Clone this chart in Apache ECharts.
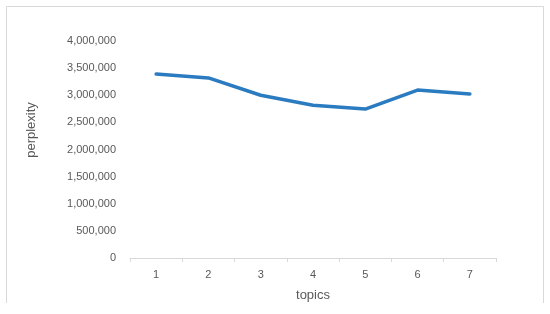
<!DOCTYPE html>
<html>
<head>
<meta charset="utf-8">
<script src="https://cdn.jsdelivr.net/npm/echarts@6/dist/echarts.min.js"></script>
<style>
  html, body { margin: 0; padding: 0; background: #fff; }
  #chart { width: 550px; height: 314px; }
</style>
</head>
<body>
<div id="chart"></div>
<script>
  // --- data ---
  var topics = ['1', '2', '3', '4', '5', '6', '7'];
  var perplexity = [3390000, 3320000, 3000000, 2815000, 2745000, 3095000, 3025000];

  var TEXT_COLOR = '#595959';
  var AXIS_COLOR = '#d9d9d9';
  var LINE_COLOR = '#2a7bc0';
  var FONT = '"Liberation Sans", Arial, sans-serif';

  function fmtThousands(v) {
    return String(v).replace(/\B(?=(\d{3})+(?!\d))/g, ',');
  }

  var chart = echarts.init(document.getElementById('chart'));
  chart.setOption({
    animation: false,
    grid: { left: 130, right: 54, top: 41, bottom: 56 },
    graphic: [
      // chart area frame (bottom edge is cut off in the reference)
      {
        type: 'polyline',
        shape: { points: [[6.5, 303], [6.5, 6.5], [543.5, 6.5], [543.5, 303]] },
        style: { stroke: AXIS_COLOR, lineWidth: 1, fill: null }
      },
      {
        type: 'text',
        x: 31, y: 130,
        rotation: Math.PI / 2,
        style: {
          text: 'perplexity', fill: TEXT_COLOR, font: '13px ' + FONT,
          align: 'center', verticalAlign: 'middle'
        }
      }
    ],
    xAxis: {
      type: 'category',
      data: topics,
      boundaryGap: true,
      name: 'topics',
      nameLocation: 'middle',
      nameGap: 31,
      nameTextStyle: { color: TEXT_COLOR, fontSize: 13, fontFamily: FONT },
      axisLine: { lineStyle: { color: AXIS_COLOR, width: 1 } },
      axisTick: { show: true, length: 4, lineStyle: { color: AXIS_COLOR } },
      axisLabel: { color: TEXT_COLOR, fontSize: 11, fontFamily: FONT, margin: 11 }
    },
    yAxis: {
      type: 'value',
      min: 0,
      max: 4000000,
      interval: 500000,
      axisLine: { show: false },
      axisTick: { show: false },
      splitLine: { show: false },
      axisLabel: {
        color: TEXT_COLOR, fontSize: 11, fontFamily: FONT, margin: 14,
        formatter: fmtThousands
      }
    },
    series: [{
      type: 'line',
      data: perplexity,
      symbol: 'none',
      lineStyle: { color: LINE_COLOR, width: 3.5, join: 'round', cap: 'round' }
    }]
  });
</script>
</body>
</html>
